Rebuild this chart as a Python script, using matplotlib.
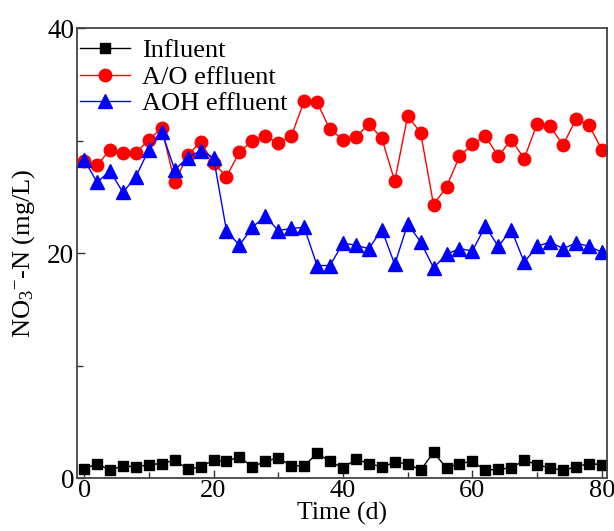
#!/usr/bin/env python3

import matplotlib
matplotlib.use('Agg')
from matplotlib import pyplot as plt
from matplotlib.ticker import MultipleLocator

days = list(range(0, 81, 2))

influent = [0.8, 1.3, 0.7, 1.1, 1.0, 1.2, 1.3, 1.6, 0.8, 1.0,
            1.6, 1.5, 1.9, 1.0, 1.5, 1.8, 1.1, 1.1, 2.2, 1.5,
            0.9, 1.7, 1.3, 1.0, 1.4, 1.3, 0.7, 2.3, 0.9, 1.3,
            1.5, 0.7, 0.8, 0.9, 1.6, 1.2, 0.9, 0.7, 1.0, 1.3, 1.2]

ao_effluent = [28.2, 27.8, 29.2, 28.9, 28.9, 30.1, 31.1, 26.3, 28.7, 29.9,
               28.0, 26.8, 29.0, 30.0, 30.4, 29.8, 30.4, 33.5, 33.4, 31.0,
               30.1, 30.3, 31.5, 30.2, 26.4, 32.2, 30.7, 24.3, 25.9, 28.6,
               29.7, 30.4, 28.6, 30.1, 28.4, 31.5, 31.3, 29.6, 31.9, 31.4, 29.2]

aoh_effluent = [28.3, 26.3, 27.3, 25.4, 26.8, 29.2, 30.8, 27.4, 28.5, 29.1,
                28.5, 22.0, 20.7, 22.3, 23.3, 22.0, 22.2, 22.3, 18.9, 18.9,
                20.9, 20.7, 20.4, 22.1, 19.0, 22.6, 21.0, 18.7, 19.9, 20.4,
                20.2, 22.4, 20.6, 22.1, 19.2, 20.6, 21.0, 20.4, 20.9, 20.6, 20.1]

plt.rcParams['font.family'] = ['Liberation Serif', 'DejaVu Serif']
plt.rcParams['mathtext.fontset'] = 'custom'
plt.rcParams['mathtext.rm'] = 'Liberation Serif'
plt.rcParams['mathtext.it'] = 'Liberation Serif:italic'

fig = plt.figure(figsize=(6.14, 5.31), dpi=100)
ax = fig.add_axes([0.1254, 0.0995, 0.8632, 0.8475])

ax.plot(days, influent, color='black', marker='s', markersize=7,
        linewidth=1, label='Influent')
ax.plot(days, ao_effluent, color='red', marker='o', markersize=9,
        linewidth=1, label='A/O effluent')
ax.plot(days, aoh_effluent, color='blue', marker='^', markersize=10,
        linewidth=1, label='AOH effluent')

ax.set_xlim(-1.1, 80.8)
ax.set_ylim(0, 40)
ax.xaxis.set_major_locator(MultipleLocator(20))
ax.xaxis.set_minor_locator(MultipleLocator(10))
ax.yaxis.set_major_locator(MultipleLocator(20))
ax.yaxis.set_minor_locator(MultipleLocator(10))
ax.tick_params(which='both', direction='in', top=False, right=False,
               labelsize=19.5, colors='#333333', labelcolor='black', pad=2)
ax.tick_params(axis='x', pad=1, labelsize=19)
ax.tick_params(which='major', length=6, width=1)
ax.tick_params(which='minor', length=4, width=1)
for spine in ax.spines.values():
    spine.set_color('#444444')
    spine.set_linewidth(1.3)

ax.set_xlabel('Time (d)', fontsize=18.5, labelpad=0)
ax.set_ylabel(r'NO$_3$$^{-}$-N (mg/L)', fontsize=19, labelpad=7)

# legend sits tight against the top-left corner
ax.legend(loc='upper left', bbox_to_anchor=(-0.015, 1.0), frameon=False,
          fontsize=19, handlelength=1.9, borderaxespad=0.3,
          labelspacing=0.12, handletextpad=0.45, borderpad=0.1)

fig.savefig('out.png', dpi=100)
